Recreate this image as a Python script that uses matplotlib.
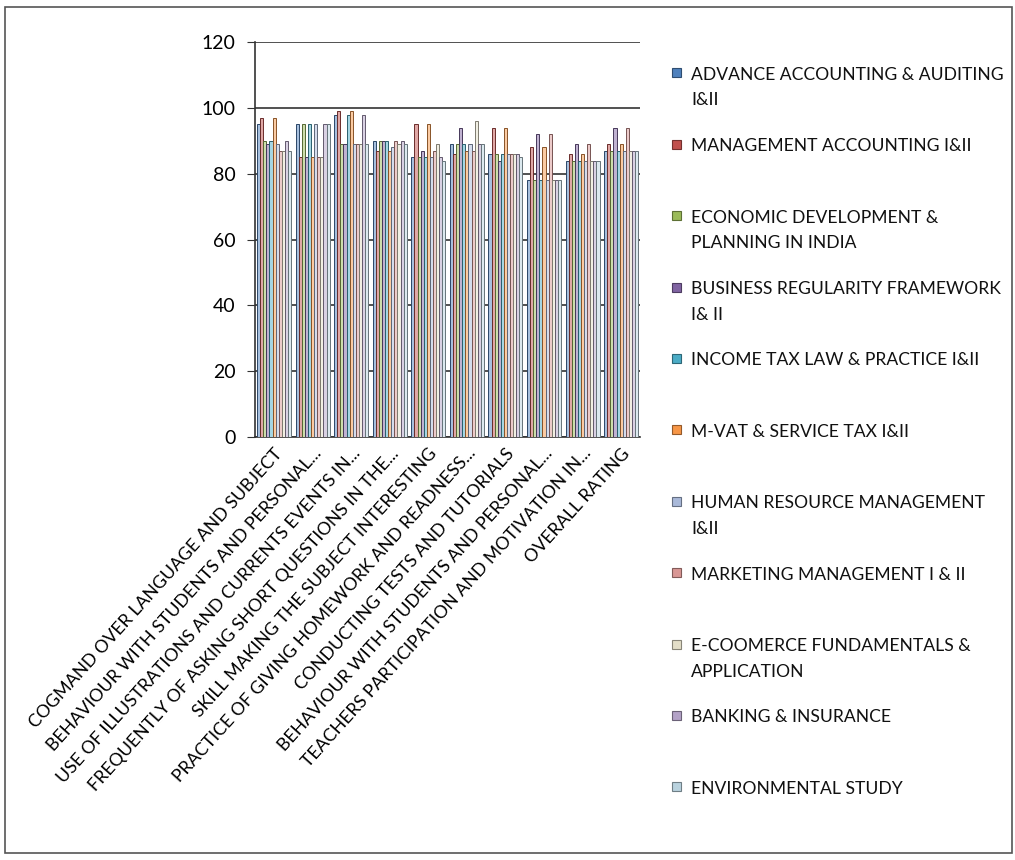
import matplotlib.pyplot as plt
import matplotlib.patches as mpatches
import matplotlib.colors as mcolors
import numpy as np

plt.rcParams['font.family'] = ['Lato', 'DejaVu Sans']

categories = ['COGMAND OVER LANGUAGE AND SUBJECT',
              'BEHAVIOUR WITH STUDENTS AND PERSONAL...',
              'USE OF ILLUSTRATIONS AND CURRENTS EVENTS IN...',
              'FREQUENTLY OF ASKING SHORT QUESTIONS IN THE...',
              'SKILL MAKING THE SUBJECT INTERESTING',
              'PRACTICE OF GIVING HOMEWORK AND READNESS...',
              'CONDUCTING TESTS AND TUTORIALS',
              'BEHAVIOUR WITH STUDENTS AND PERSONAL...',
              'TEACHERS PARTICIPATION AND MOTIVATION IN...',
              'OVERALL RATING']

series_names = ['ADVANCE ACCOUNTING & AUDITING\nI&II',
                'MANAGEMENT ACCOUNTING I&II',
                'ECONOMIC DEVELOPMENT &\nPLANNING IN INDIA',
                'BUSINESS REGULARITY FRAMEWORK\nI& II',
                'INCOME TAX LAW & PRACTICE I&II',
                'M-VAT & SERVICE TAX I&II',
                'HUMAN RESOURCE MANAGEMENT\nI&II',
                'MARKETING MANAGEMENT I & II',
                'E-COOMERCE FUNDAMENTALS &\nAPPLICATION',
                'BANKING & INSURANCE',
                'ENVIRONMENTAL STUDY']

adv_acc = [95, 95, 98, 90, 85, 89, 86, 78, 84, 87]
mgmt_acc = [97, 85, 99, 87, 95, 86, 94, 88, 86, 89]
eco_dev = [90, 95, 89, 90, 85, 89, 86, 78, 84, 87]
bus_reg = [89, 85, 89, 90, 87, 94, 84, 92, 89, 94]
income_tax = [90, 95, 98, 90, 85, 89, 86, 78, 84, 87]
mvat = [97, 85, 99, 87, 95, 87, 94, 88, 86, 89]
hrm = [89, 95, 89, 88, 85, 89, 86, 78, 84, 87]
marketing = [87, 85, 89, 90, 87, 87, 86, 92, 89, 94]
ecommerce = [87, 85, 89, 89, 89, 96, 86, 78, 84, 87]
banking = [90, 95, 98, 90, 85, 89, 86, 78, 84, 87]
env_study = [87, 95, 89, 89, 84, 89, 85, 78, 84, 87]

all_series = [adv_acc, mgmt_acc, eco_dev, bus_reg, income_tax, mvat,
              hrm, marketing, ecommerce, banking, env_study]

colors = ['#4F81BD', '#C0504D', '#9BBB59', '#8064A2', '#4BACC6', '#F79646',
          '#A9B9D9', '#D99795', '#E3DEC8', '#B3A2C7', '#B9D2DE']

def mix(c, f):
    r = np.array(mcolors.to_rgb(c))
    return tuple(r + (1 - r) * f)

def dark(c, f):
    return tuple(np.array(mcolors.to_rgb(c)) * f)

fig = plt.figure(figsize=(10.15, 8.6), dpi=100)
fig.patch.set_facecolor('white')
ax = fig.add_axes([0.251, 0.492, 0.380, 0.459])

x = np.arange(len(categories))
n = len(all_series)
w = 0.88 / n
for i, vals in enumerate(all_series):
    ax.bar(x - 0.44 + w * (i + 0.5), vals, width=w,
           color=mix(colors[i], 0.5), edgecolor=dark(colors[i], 0.55),
           linewidth=0.7, zorder=3)

ax.set_ylim(0, 120)
ax.set_xlim(-0.5, len(categories) - 0.5)
ax.set_yticks(range(0, 121, 20))
ax.tick_params(axis='y', labelsize=14, length=6, color='#333333', pad=8)
ax.yaxis.grid(True, color='#333333', linewidth=1.2, zorder=0)
ax.set_xticks(x)
ax.set_xticklabels(categories, rotation=48, ha='right',
                   rotation_mode='anchor', fontsize=12.8)
ax.tick_params(axis='x', length=0, pad=6)
for s in ['top', 'right']:
    ax.spines[s].set_visible(False)
ax.spines['left'].set_color('#333333')
ax.spines['bottom'].set_color('#333333')
ax.spines['left'].set_linewidth(1.2)
ax.spines['bottom'].set_linewidth(1.2)

# legend drawn by hand so the spacing matches the original
top = 1 - 65 / 860
step = 71.4 / 860
for i, name in enumerate(series_names):
    yy = top - i * step
    fig.patches.append(mpatches.Rectangle((672 / 1015, yy - 0.0145), 9 / 1015, 9 / 860,
                                          transform=fig.transFigure,
                                          facecolor=colors[i],
                                          edgecolor=dark(colors[i], 0.6),
                                          linewidth=0.8))
    fig.text(691 / 1015, yy - 0.002, name, fontsize=12.6, va='top',
             ha='left', linespacing=1.75, color='#111111')

fig.patches.append(mpatches.Rectangle((5 / 1015, 7 / 860), 1007 / 1015, 846 / 860,
                                      transform=fig.transFigure, fill=False,
                                      edgecolor='#555555', linewidth=1.2))

fig.savefig('out.png', dpi=100)
